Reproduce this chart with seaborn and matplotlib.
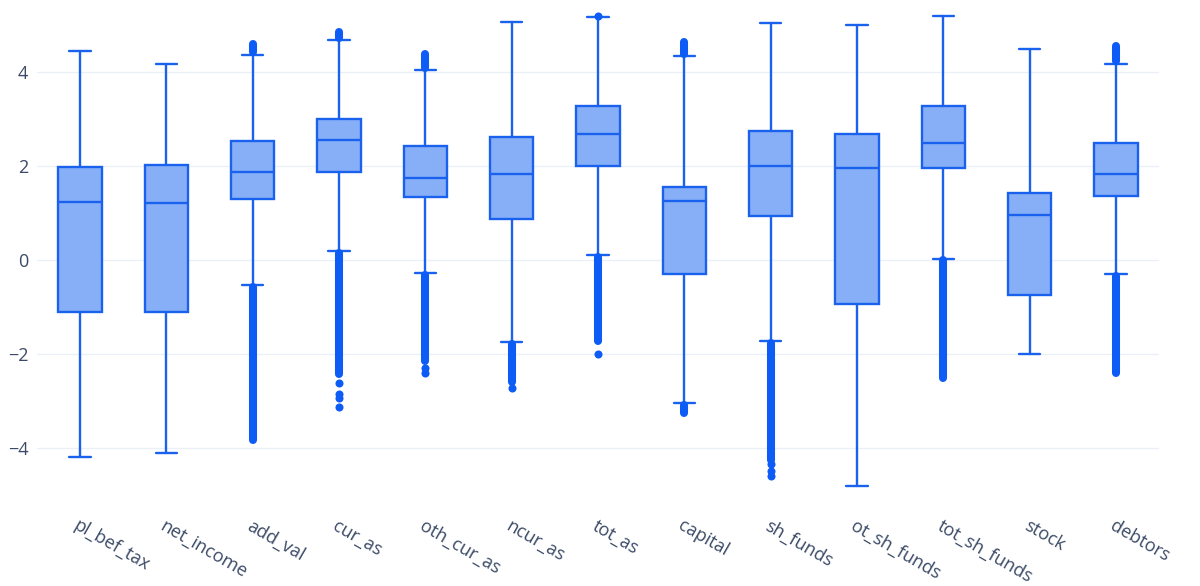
import matplotlib
matplotlib.use("Agg")
import matplotlib.pyplot as plt
import numpy as np
import pandas as pd
import seaborn as sns

# Summary statistics per variable
categories = ["pl_bef_tax", "net_income", "add_val", "cur_as", "oth_cur_as",
              "ncur_as", "tot_as", "capital", "sh_funds", "ot_sh_funds",
              "tot_sh_funds", "stock", "debtors"]
whisker_low = [-4.20, -4.10, -0.54, 0.20, -0.28, -1.74, 0.11, -3.04, -1.72, -4.81, 0.03, -2.01, -0.30]
q1 = [-1.11, -1.11, 1.29, 1.87, 1.33, 0.87, 2.01, -0.30, 0.94, -0.94, 1.96, -0.74, 1.36]
median = [1.23, 1.21, 1.87, 2.55, 1.75, 1.83, 2.68, 1.25, 2.00, 1.95, 2.50, 0.96, 1.84]
q3 = [1.97, 2.03, 2.53, 3.01, 2.43, 2.62, 3.28, 1.56, 2.74, 2.69, 3.28, 1.42, 2.50]
whisker_high = [4.45, 4.18, 4.36, 4.68, 4.04, 5.06, 5.16, 4.33, 5.04, 5.01, 5.19, 4.50, 4.18]

# Dense runs of outliers: (variable, lowest value, highest value)
band_var = ["add_val", "add_val", "cur_as", "cur_as", "oth_cur_as", "oth_cur_as",
            "ncur_as", "tot_as", "capital", "capital", "sh_funds",
            "tot_sh_funds", "debtors", "debtors"]
band_lo = [4.42, -3.82, 4.73, -2.42, 4.09, -2.15, -2.60, -1.72, 4.39, -3.25, -4.25, -2.50, 4.23, -2.40]
band_hi = [4.60, -0.58, 4.86, 0.15, 4.38, -0.32, -1.78, 0.06, 4.63, -3.08, -1.76, -0.01, 4.56, -0.34]

# Isolated outliers
point_var = ["cur_as", "cur_as", "cur_as", "cur_as", "oth_cur_as", "oth_cur_as",
             "ncur_as", "tot_as", "tot_as", "sh_funds", "sh_funds", "sh_funds"]
point_val = [-2.62, -2.86, -2.94, -3.12, -2.30, -2.40,
             -2.73, 5.20, -2.00, -4.35, -4.48, -4.60]

EDGE = "#1a62ee"
FILL = "#87aff7"
DOT = "#0d5cf5"
TEXT = "#3b4a66"
GRID = "#ebf0f8"

sns.set_theme(style="white")
plt.rcParams["font.family"] = ["Open Sans", "DejaVu Sans"]

fig = plt.figure(figsize=(12, 5.86), dpi=100)
W, H = 1200, 586
left, right, top, bottom = 36.8, 1159.2, 5, 500
ax = fig.add_axes([left / W, 1 - bottom / H, (right - left) / W, (bottom - top) / H])

stats = []
for i, name in enumerate(categories):
    stats.append(dict(label=name, whislo=whisker_low[i], q1=q1[i], med=median[i],
                      q3=q3[i], whishi=whisker_high[i], fliers=[]))

ax.bxp(stats, positions=np.arange(len(categories)), widths=0.5, capwidths=0.25,
       patch_artist=True, showfliers=False,
       boxprops=dict(facecolor=FILL, edgecolor=EDGE, linewidth=1.7),
       medianprops=dict(color=EDGE, linewidth=1.7),
       whiskerprops=dict(color=EDGE, linewidth=1.7),
       capprops=dict(color=EDGE, linewidth=1.7), zorder=2)

# outlier runs packed tightly enough to read as solid strokes
band_pos = [categories.index(v) for v in band_var]
runs = ax.vlines(band_pos, band_lo, band_hi, colors=DOT, linewidth=5.8, zorder=3)
runs.set_capstyle("round")

pts = pd.DataFrame({"var": point_var, "value": point_val})
sns.stripplot(data=pts, x="var", y="value", order=categories, jitter=False,
              color=DOT, size=5.8, linewidth=0, ax=ax, zorder=4)

ax.set_xlim(-0.5, len(categories) - 0.5)
ax.set_ylim((260 - bottom) / 47, (260 - top) / 47)
ax.set_yticks([-4, -2, 0, 2, 4])
ax.set_yticklabels(["\u22124", "\u22122", "0", "2", "4"])
ax.set_xticks(np.arange(len(categories)))
ax.set_xticklabels(categories, rotation=-30, ha="left", va="top",
                   rotation_mode="anchor")
ax.set_xlabel("")
ax.set_ylabel("")
ax.tick_params(axis="x", colors=TEXT, labelsize=13, length=0, pad=12)
ax.tick_params(axis="y", colors=TEXT, labelsize=13, length=0, pad=6)
ax.yaxis.grid(True, color=GRID, linewidth=1)
ax.xaxis.grid(False)
ax.set_axisbelow(True)
for s in ax.spines.values():
    s.set_visible(False)

fig.savefig("out.png", dpi=100, facecolor="white")
